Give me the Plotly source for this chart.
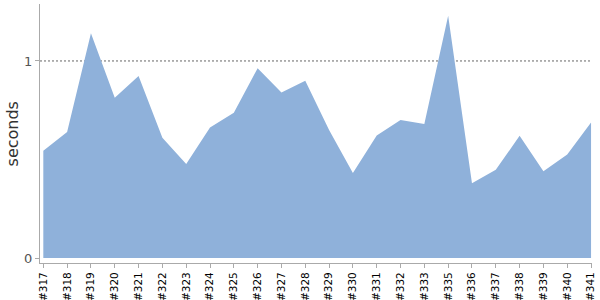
import plotly.graph_objects as go

builds = ["#317", "#318", "#319", "#320", "#321", "#322", "#323", "#324", "#325", "#326",
          "#327", "#328", "#329", "#330", "#331", "#332", "#333", "#335", "#336", "#337",
          "#338", "#339", "#340", "#341"]
seconds = [0.544, 0.639, 1.140, 0.814, 0.924, 0.610, 0.477, 0.662, 0.737, 0.963,
           0.840, 0.899, 0.650, 0.431, 0.622, 0.701, 0.680, 1.230, 0.379, 0.448,
           0.620, 0.440, 0.526, 0.688]
y_ticks = [0, 1]
y_tick_text = ["0", "1"]
y_title = "seconds"

fig = go.Figure()
fig.add_trace(go.Scatter(
    x=builds, y=seconds, mode="lines", fill="tozeroy",
    line=dict(width=0, color="#8fb1da"), fillcolor="#8fb1da",
    hoverinfo="skip", showlegend=False,
))

fig.add_hline(y=y_ticks[1], line=dict(color="#666666", width=1, dash="2px,2px"), layer="below")

fig.add_annotation(
    text=y_title, textangle=-90, xref="paper", yref="paper",
    x=-0.049, y=0.5, xanchor="center", yanchor="middle", showarrow=False,
    font=dict(family="DejaVu Sans", size=16, color="#333333"),
)

fig.update_layout(
    width=600, height=300,
    margin=dict(l=40, r=8, t=4, b=37),
    paper_bgcolor="white", plot_bgcolor="white",
    font=dict(family="DejaVu Sans", color="#000"),
    xaxis=dict(
        type="category", range=[-0.139, 23.04], automargin=False,
        showgrid=False, zeroline=False,
        showline=True, linecolor="#aaaaaa", linewidth=1,
        ticks="outside", ticklen=4, tickcolor="#aaaaaa",
        tickangle=-90, tickfont=dict(size=10.5, color="#000"),
    ),
    yaxis=dict(
        range=[-0.025, 1.289], automargin=False,
        tickvals=y_ticks, ticktext=y_tick_text,
        showgrid=False, zeroline=False,
        showline=True, linecolor="#aaaaaa", linewidth=1,
        ticks="outside", ticklen=4, tickcolor="#aaaaaa",
        tickfont=dict(size=13, color="#555555"),
    ),
)

fig.write_html("out.html")
